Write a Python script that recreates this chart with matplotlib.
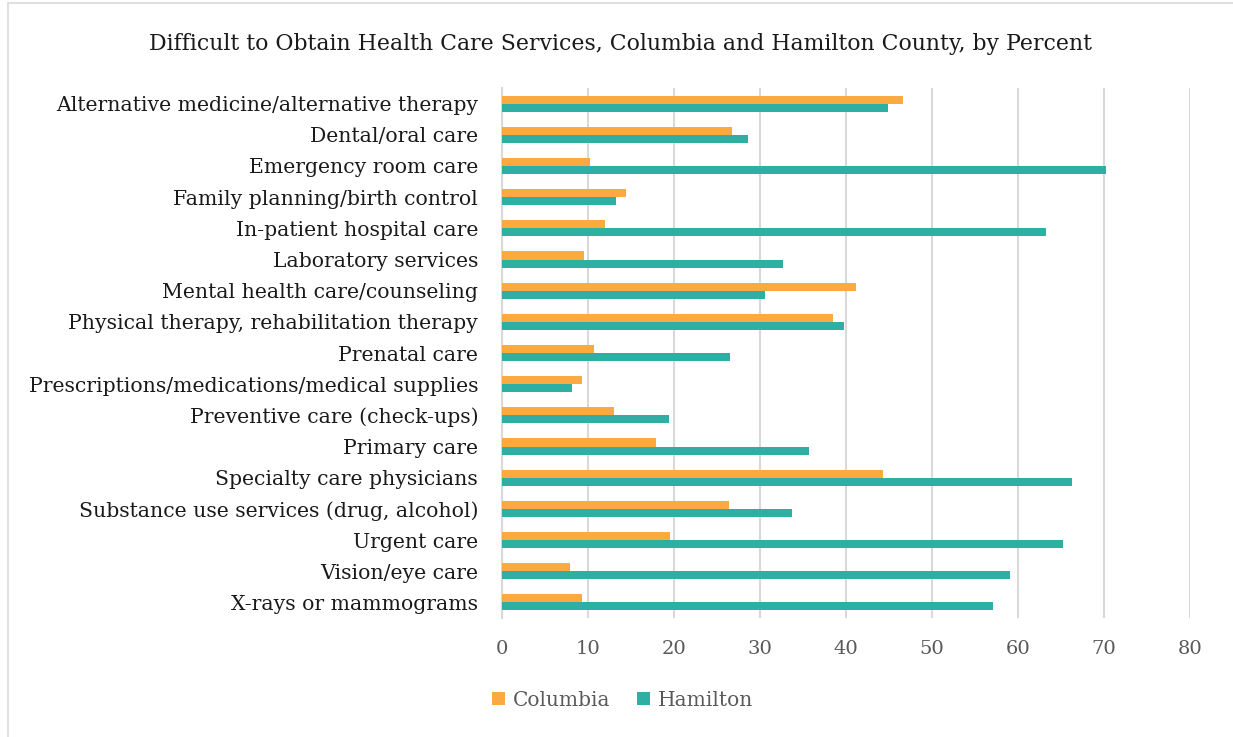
import matplotlib.pyplot as plt
from matplotlib.patches import Rectangle
import numpy as np

categories = [
    'Alternative medicine/alternative therapy',
    'Dental/oral care',
    'Emergency room care',
    'Family planning/birth control',
    'In-patient hospital care',
    'Laboratory services',
    'Mental health care/counseling',
    'Physical therapy, rehabilitation therapy',
    'Prenatal care',
    'Prescriptions/medications/medical supplies',
    'Preventive care (check-ups)',
    'Primary care',
    'Specialty care physicians',
    'Substance use services (drug, alcohol)',
    'Urgent care',
    'Vision/eye care',
    'X-rays or mammograms',
]
columbia = [46.6, 26.8, 10.3, 14.4, 12.0, 9.6, 41.2, 38.5, 10.7, 9.3,
            13.0, 17.9, 44.3, 26.4, 19.6, 7.9, 9.3]
hamilton = [44.9, 28.6, 70.3, 13.3, 63.3, 32.7, 30.6, 39.8, 26.5, 8.2,
            19.4, 35.7, 66.3, 33.7, 65.3, 59.1, 57.1]
x_ticks = [0, 10, 20, 30, 40, 50, 60, 70, 80]

orange = '#FBAA41'
teal = '#2DB0A3'
gray_text = '#595959'
grid_col = '#D9D9D9'

plt.rcParams['font.family'] = ['DejaVu Serif']

fig = plt.figure(figsize=(12.33, 7.37), dpi=100)
ax = fig.add_axes([0.407, 0.1615, 0.558, 0.719])

y = np.arange(len(categories))
h = 0.26
ax.barh(y - h / 2, columbia, height=h, color=orange, label='Columbia', zorder=3)
ax.barh(y + h / 2, hamilton, height=h, color=teal, label='Hamilton', zorder=3)

ax.set_ylim(len(categories) - 0.5, -0.5)
ax.set_xlim(0, 80)
ax.set_xticks(x_ticks)
ax.set_yticks(y, labels=categories)
ax.tick_params(axis='y', length=0, labelsize=14.7, labelcolor='#1a1a1a', pad=17)
ax.tick_params(axis='x', length=0, labelsize=14, labelcolor=gray_text, pad=16)
ax.xaxis.grid(True, color=grid_col, linewidth=1.5, zorder=0)
for side in ['top', 'right', 'bottom']:
    ax.spines[side].set_visible(False)
ax.spines['left'].set_color(grid_col)
ax.spines['left'].set_linewidth(1.5)

fig.suptitle('Difficult to Obtain Health Care Services, Columbia and Hamilton County, by Percent',
             x=0.503, y=0.955, fontsize=15.8, color='#1a1a1a')

fig.legend(loc='center', bbox_to_anchor=(0.505, 0.05), ncol=2, frameon=False,
           fontsize=14.5, labelcolor=gray_text, handlelength=0.65, handleheight=0.65,
           handletextpad=0.4, columnspacing=1.3)

fig.patches.append(Rectangle((0.0065, -0.01), 1.2, 1.006, transform=fig.transFigure,
                             fill=False, edgecolor='#D9D9D9', linewidth=1.2))

plt.savefig('out.png', dpi=100)
